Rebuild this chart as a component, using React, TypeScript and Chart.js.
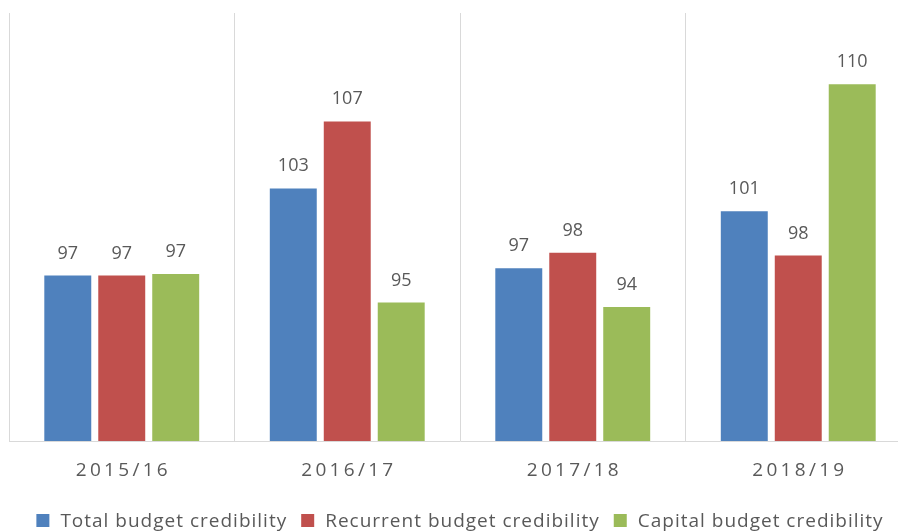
import React, { useEffect, useRef } from "react";
import { Chart, registerables } from "chart.js";

Chart.register(...registerables);

const categories = ["2015/16", "2016/17", "2017/18", "2018/19"];
const seriesNames = [
  "Total budget credibility",
  "Recurrent budget credibility",
  "Capital budget credibility",
];
const totalValues = [96.6, 102.7, 97.1, 101.1];
const recurrentValues = [96.6, 107.4, 98.2, 98.0];
const capitalValues = [96.7, 94.7, 94.4, 110.0];
const seriesColors = ["#4F81BD", "#C0504D", "#9BBB59"];
const axisMin = 85;
const axisMax = 115;

const TEXT_COLOR = "#595959";
const FONT = "'Open Sans', 'DejaVu Sans', sans-serif";

const overlayPlugin = {
  id: "overlay",
  afterDraw(chart: any) {
    const ctx = chart.ctx as CanvasRenderingContext2D;
    const area = chart.chartArea;
    const xScale = chart.scales.x;
    ctx.save();
    ctx.fillStyle = TEXT_COLOR;

    // value labels
    ctx.font = `18px ${FONT}`;
    ctx.textAlign = "center";
    ctx.textBaseline = "alphabetic";
    chart.data.datasets.forEach((ds: any, i: number) => {
      const meta = chart.getDatasetMeta(i);
      meta.data.forEach((bar: any, j: number) => {
        ctx.fillText(String(Math.round(ds.data[j])), bar.x, bar.y - 17);
      });
    });

    // category labels (letter-spaced)
    ctx.font = `19px ${FONT}`;
    (ctx as any).letterSpacing = "3.3px";
    chart.data.labels.forEach((lab: string, i: number) => {
      ctx.fillText(lab, xScale.getPixelForValue(i) + 1.6, area.bottom + 35);
    });

    // legend
    ctx.font = `19px ${FONT}`;
    (ctx as any).letterSpacing = "1px";
    ctx.textAlign = "left";
    const box = 13;
    const gapBoxText = 11;
    const gapItems = 14;
    const widths = chart.data.datasets.map((ds: any) => ctx.measureText(ds.label).width);
    const total =
      widths.reduce((a: number, b: number) => a + b, 0) +
      chart.data.datasets.length * (box + gapBoxText) +
      (chart.data.datasets.length - 1) * gapItems;
    let lx = (area.left + area.right) / 2 - total / 2;
    const baseY = area.bottom + 86;
    chart.data.datasets.forEach((ds: any, i: number) => {
      ctx.fillStyle = ds.backgroundColor;
      ctx.fillRect(lx, baseY - box, box, box);
      lx += box + gapBoxText;
      ctx.fillStyle = TEXT_COLOR;
      ctx.fillText(ds.label, lx, baseY);
      lx += widths[i] + gapItems;
    });
    ctx.restore();
  },
};

export default function App() {
  const canvasRef = useRef<HTMLCanvasElement | null>(null);

  useEffect(() => {
    if (!canvasRef.current) return;
    const seriesValues = [totalValues, recurrentValues, capitalValues];
    const chart = new Chart(canvasRef.current, {
      type: "bar",
      data: {
        labels: categories,
        datasets: seriesNames.map((name, i) => ({
          label: name,
          data: seriesValues[i],
          backgroundColor: seriesColors[i],
          borderWidth: 0,
          categoryPercentage: 0.718,
          barPercentage: 0.87,
        })),
      },
      options: {
        responsive: false,
        animation: false,
        devicePixelRatio: 1,
        layout: { padding: { left: 9, right: 9, top: 13, bottom: 91 } },
        plugins: {
          legend: { display: false },
          tooltip: { enabled: false },
        },
        scales: {
          x: {
            display: true,
            grid: { color: "#D9D9D9", lineWidth: 1, drawTicks: false, offset: true },
            border: { display: true, color: "#D9D9D9", width: 1 },
            ticks: { display: false },
          },
          y: {
            display: false,
            min: axisMin,
            max: axisMax,
          },
        },
      },
      plugins: [overlayPlugin],
    });
    return () => chart.destroy();
  }, []);

  return (
    <div
      style={{
        position: "fixed",
        left: 0,
        top: 0,
        width: 898,
        height: 532,
        overflow: "hidden",
        background: "#fff",
      }}
    >
      <canvas ref={canvasRef} width={920} height={532} style={{ display: "block" }} />
    </div>
  );
}
